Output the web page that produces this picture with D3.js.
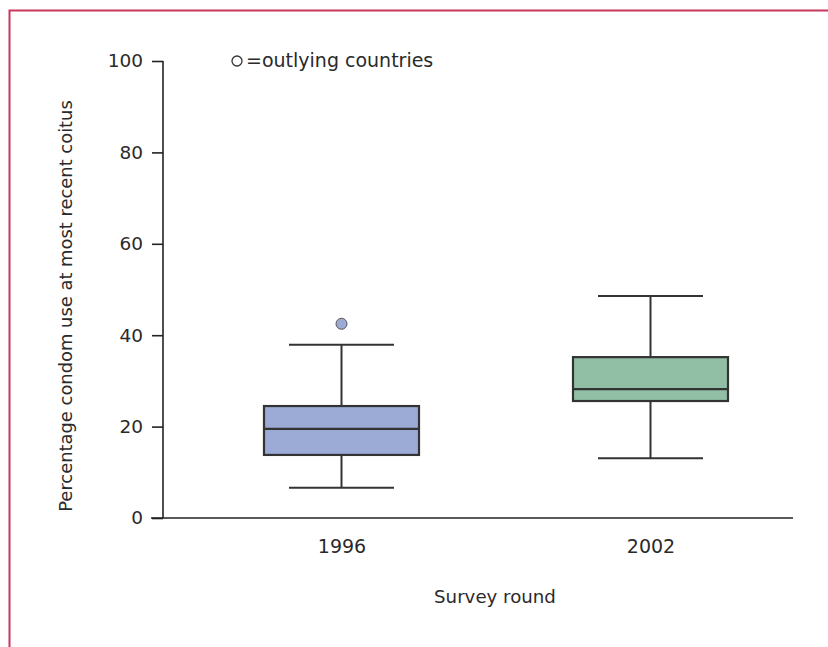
<!DOCTYPE html>
<html>
<head>
<meta charset="utf-8">
<script src="https://cdn.jsdelivr.net/npm/d3@7"></script>
<style>
  body { margin: 0; background: #fff; }
  text { font-family: "DejaVu Sans", sans-serif; fill: #2a2a2a; }
</style>
</head>
<body>
<div id="contenedor"></div>
<script>
// datos
rondas = ["1996", "2002"]
minimos = [6.6, 13.1]
q1 = [13.8, 25.6]
medianas = [19.5, 28.2]
q3 = [24.5, 35.2]
maximos = [37.9, 48.6]
colores = ["#9cabd6", "#90bfa5"]
atipicos = [{ronda: "1996", valor: 42.5}]
ticksY = [0, 20, 40, 60, 80, 100]

ancho = 828
alto = 647

cajas = rondas.map(function(r, i) {
    return {ronda: r, min: minimos[i], q1: q1[i], med: medianas[i], q3: q3[i], max: maximos[i], color: colores[i]}
})

svg = d3.select("#contenedor")
    .append("svg")
    .attr("width", ancho)
    .attr("height", alto)

// marco rojo
svg.append("path")
    .attr("d", "M9.5," + alto + "V10.5H" + ancho)
    .attr("fill", "none")
    .attr("stroke", "#c9375c")
    .attr("stroke-width", 2)

escalaY = d3.scaleLinear()
    .domain([0, 100])
    .range([518, 61])

escalaX = d3.scalePoint()
    .domain(rondas)
    .range([187, 805])
    .padding(0.5)

// eje y
ejeY = d3.axisLeft(escalaY)
    .tickValues(ticksY)
    .tickSize(11)
    .tickPadding(9)

gy = svg.append("g")
    .attr("transform", "translate(163,0)")
    .call(ejeY)
gy.select(".domain").attr("d", "M0,61V518").attr("stroke", "#222").attr("stroke-width", 1.6)
gy.selectAll(".tick line").attr("stroke", "#222").attr("stroke-width", 1.6)
gy.selectAll(".tick text").style("font-size", "18.5px").attr("fill", "#2a2a2a")

// eje x
ejeX = d3.axisBottom(escalaX).tickSize(0).tickPadding(22)
gx = svg.append("g")
    .attr("transform", "translate(0,518)")
    .call(ejeX)
gx.select(".domain").attr("d", "M151,0H793").attr("stroke", "#222").attr("stroke-width", 1.6)
gx.selectAll(".tick text").style("font-size", "19px").attr("fill", "#2a2a2a")

svg.append("text")
    .attr("x", 495)
    .attr("y", 603)
    .attr("text-anchor", "middle")
    .style("font-size", "18.2px")
    .text("Survey round")

svg.append("text")
    .attr("transform", "translate(72,306) rotate(-90)")
    .attr("text-anchor", "middle")
    .style("font-size", "17.9px")
    .text("Percentage condom use at most recent coitus")

// leyenda
svg.append("circle")
    .attr("cx", 237).attr("cy", 61).attr("r", 5)
    .attr("fill", "none").attr("stroke", "#333").attr("stroke-width", 1.3)
svg.append("text")
    .attr("x", 246).attr("y", 67)
    .style("font-size", "19px")
    .text("=outlying countries")

// cajas
anchoCaja = 155
anchoTapa = 105

g = svg.selectAll("g.caja")
    .data(cajas)
    .enter()
    .append("g")
    .attr("class", "caja")
    .attr("transform", function(d) { return "translate(" + escalaX(d.ronda) + ",0)" })

g.append("line")
    .attr("x1", 0).attr("x2", 0)
    .attr("y1", function(d) { return escalaY(d.max) })
    .attr("y2", function(d) { return escalaY(d.min) })
    .attr("stroke", "#333").attr("stroke-width", 2)

g.append("rect")
    .attr("x", -anchoCaja / 2)
    .attr("width", anchoCaja)
    .attr("y", function(d) { return escalaY(d.q3) })
    .attr("height", function(d) { return escalaY(d.q1) - escalaY(d.q3) })
    .attr("fill", function(d) { return d.color })
    .attr("stroke", "#333").attr("stroke-width", 2.2)

g.append("line")
    .attr("x1", -anchoCaja / 2).attr("x2", anchoCaja / 2)
    .attr("y1", function(d) { return escalaY(d.med) })
    .attr("y2", function(d) { return escalaY(d.med) })
    .attr("stroke", "#333").attr("stroke-width", 2.2)

g.selectAll("line.tapa")
    .data(function(d) { return [d.min, d.max] })
    .enter()
    .append("line")
    .attr("class", "tapa")
    .attr("x1", -anchoTapa / 2).attr("x2", anchoTapa / 2)
    .attr("y1", function(v) { return escalaY(v) })
    .attr("y2", function(v) { return escalaY(v) })
    .attr("stroke", "#333").attr("stroke-width", 2)

svg.selectAll("circle.atipico")
    .data(atipicos)
    .enter()
    .append("circle")
    .attr("class", "atipico")
    .attr("cx", function(d) { return escalaX(d.ronda) })
    .attr("cy", function(d) { return escalaY(d.valor) })
    .attr("r", 5.5)
    .attr("fill", "#9cabd6")
    .attr("stroke", "#555").attr("stroke-width", 1)
</script>
</body>
</html>
